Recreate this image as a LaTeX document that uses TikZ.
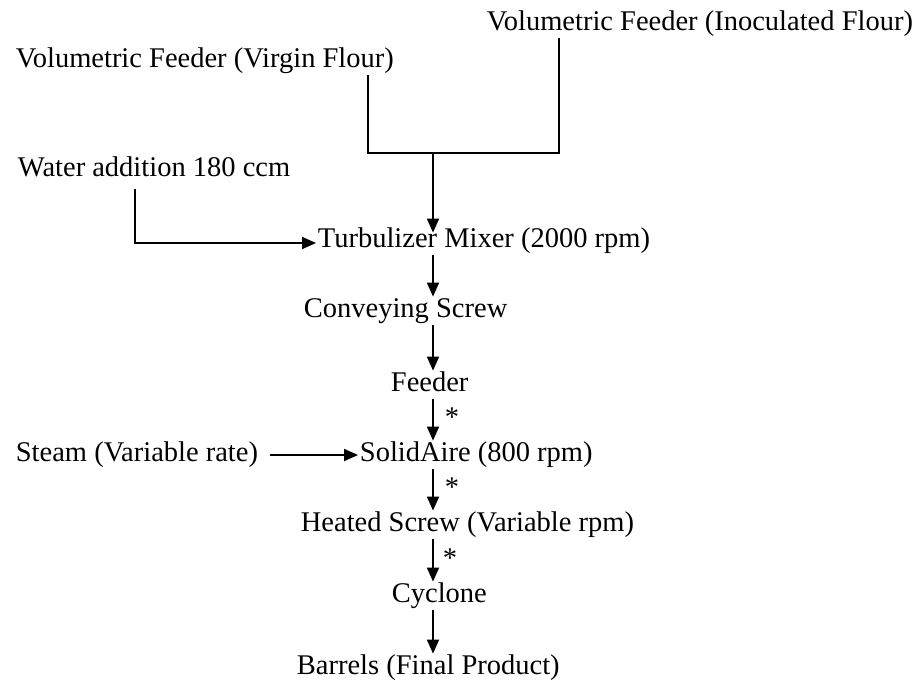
\documentclass[tikz,border=0pt]{standalone}
\usepackage{fontspec}
\setmainfont{Liberation Serif}
\usetikzlibrary{arrows.meta}
\begin{document}
\begin{tikzpicture}[x=1pt, y=-1pt, line width=1.8pt,
    lbl/.style={anchor=west, inner sep=1pt, text height=19pt, text depth=6pt,
      font=\fontsize{28.5}{34}\selectfont},
    arr/.style={-{Triangle[length=14pt,width=12pt]}}]
    \useasboundingbox (0, 0) rectangle (917, 680);

    \node[lbl] (inoc)   at (485, 24)  {Volumetric Feeder (Inoculated Flour)};
    \node[lbl] (virgin) at (14, 61)   {Volumetric Feeder (Virgin Flour)};
    \node[lbl] (water)  at (16, 170)  {Water addition 180 ccm};
    \node[lbl] (turb)   at (316, 241) {Turbulizer Mixer (2000 rpm)};
    \node[lbl] (conv)   at (302, 311) {Conveying Screw};
    \node[lbl] (feed)   at (389, 385) {Feeder};
    \node[lbl] (steam)  at (14, 455)  {Steam (Variable rate)};
    \node[lbl] (solid)  at (358, 455) {SolidAire (800 rpm)};
    \node[lbl] (heat)   at (299, 525) {Heated Screw (Variable rpm)};
    \node[lbl] (cycl)   at (390, 596) {Cyclone};
    \node[lbl] (barr)   at (295, 668) {Barrels (Final Product)};

    \node[lbl] (st1) at (443, 420) {*};
    \node[lbl] (st2) at (443, 490) {*};
    \node[lbl] (st3) at (441, 561) {*};

    \coordinate (vtap) at (368, 153);
    \coordinate (itap) at (559, 153);
    \coordinate (join) at (433, 153);
    \coordinate (wtap) at (135, 243);

    \draw[line cap=rect] (virgin.south -| vtap) -- (vtap) -- (itap) -- (inoc.south -| itap);
    \draw[arr, shorten >=-6pt] (join) -- (turb.north -| join);
    \draw[arr, shorten <=5pt] (water.south -| wtap) -- (wtap) -- (turb.west |- wtap);

    \draw[arr] (turb.south -| join) -- (conv.north -| join);
    \draw[arr] (conv.south -| join) -- (feed.north -| join);
    \draw[arr] (feed.south -| join) -- (solid.north -| join);
    \draw[arr, shorten <=10pt] (steam.east) -- (solid.west);
    \draw[arr] (solid.south -| join) -- (heat.north -| join);
    \draw[arr] (heat.south -| join) -- (cycl.north -| join);
    \draw[arr] (cycl.south -| join) -- (barr.north -| join);
  \end{tikzpicture}
\end{document}
